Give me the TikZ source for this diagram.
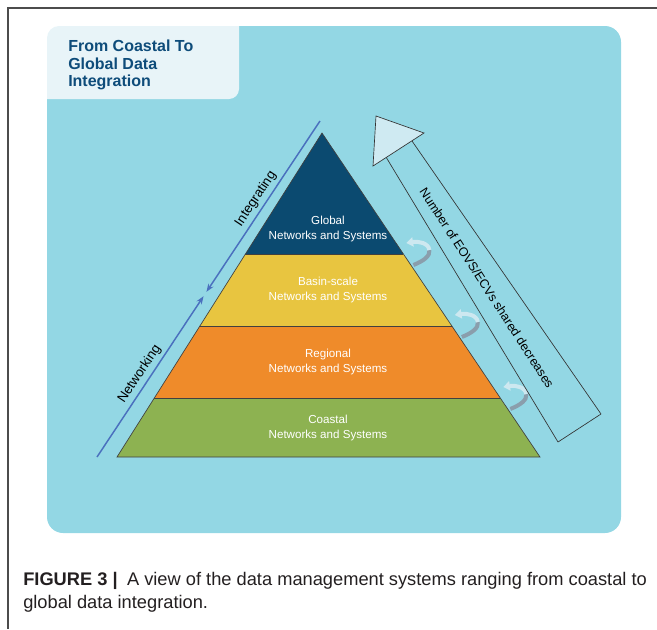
\documentclass[tikz,border=0pt]{standalone}
\usepackage{fontspec}
\setmainfont{Liberation Sans}
\usetikzlibrary{calc,arrows.meta}
\definecolor{panel}{HTML}{93D7E4}
\definecolor{titlebg}{HTML}{E8F4F8}
\definecolor{titleblue}{HTML}{0E4C7A}
\definecolor{globalc}{HTML}{0B4A70}
\definecolor{basinc}{HTML}{E8C540}
\definecolor{regionc}{HTML}{EF8B2A}
\definecolor{coastc}{HTML}{8DB251}
\definecolor{netblue}{HTML}{4A70BE}
\definecolor{headfill}{HTML}{CFEAF2}
\definecolor{curlgray}{HTML}{8A9EAC}
\definecolor{curllight}{HTML}{CDE8F0}
\definecolor{captext}{HTML}{231F20}
\tikzset{lay/.style={draw=black!75,line width=0.5pt}}
\tikzset{lbl/.style={text=white,align=center,font=\fontsize{8.7}{11.25}\selectfont}}
\tikzset{side/.style={text=black,inner sep=2.5pt,font=\fontsize{10}{10}\selectfont}}
\tikzset{netw/.style={netblue,line width=1.1pt,-{Stealth[length=6pt,width=4.5pt]}}}
\tikzset{outl/.style={draw=black!80,line width=0.5pt}}
\tikzset{captxt/.style={inner sep=0pt,text=captext,font=\fontsize{13.7}{17.5}\selectfont}}
\tikzset{curl/.pic={
  \draw[curlgray,line width=3pt] (10,-11) .. controls (20,-7) and (27,-2) .. (26,4);
  \draw[curllight,line width=3pt,-{Triangle[length=5pt,width=7pt]}] (26,4) .. controls (25,11) and (15,13) .. (3,11);
}}

\begin{document}
\begin{tikzpicture}[x=0.75pt,y=0.75pt]
        \useasboundingbox (0,0) rectangle (657,-629);
        \draw[black!70,line width=0.9pt] (657,-8) -- (8,-8) -- (8,-629);
        \fill[panel,rounded corners=12] (47,-26) rectangle (621,-533);
        \fill[titlebg] (239,-26) -- (239,-89) arc (0:-90:10) -- (47,-99) -- (47,-38) arc (180:90:12) -- cycle;
        \node[anchor=north west,inner sep=0pt,align=left,text=titleblue,font=\bfseries\fontsize{12}{12.9}\selectfont] (ttl) at (68,-40) {From Coastal To\\Global Data\\Integration};
        % pyramid
        \coordinate (apex) at (322,-133);
        \coordinate (bl) at (117,-457);
        \coordinate (br) at (540,-457);
        \coordinate (l1) at ($(apex)!0.3735!(bl)$);
        \coordinate (r1) at ($(apex)!0.3735!(br)$);
        \coordinate (l2) at ($(apex)!0.5957!(bl)$);
        \coordinate (r2) at ($(apex)!0.5957!(br)$);
        \coordinate (l3) at ($(apex)!0.8179!(bl)$);
        \coordinate (r3) at ($(apex)!0.8179!(br)$);
        \fill[globalc] (apex) -- (l1) -- (r1) -- cycle;
        \fill[basinc] (l1) -- (l2) -- (r2) -- (r1) -- cycle;
        \fill[regionc] (l2) -- (l3) -- (r3) -- (r2) -- cycle;
        \fill[coastc] (l3) -- (bl) -- (br) -- (r3) -- cycle;
        \draw[lay] (apex) -- (bl) -- (br) -- cycle;
        \draw[lay] (l1) -- (r1) (l2) -- (r2) (l3) -- (r3);
        \node[lbl] (glob) at (328,-229) {Global\\Networks and Systems};
        \node[lbl] (basin) at (328,-289.5) {Basin-scale\\Networks and Systems};
        \node[lbl] (regio) at (328,-362) {Regional\\Networks and Systems};
        \node[lbl] (coast) at (328,-428) {Coastal\\Networks and Systems};
        \pic at (r1) {curl};
        \pic at (r2) {curl};
        \pic at (r3) {curl};
        % networking / integrating
        \coordinate (nb) at (97,-457);
        \coordinate (nt) at (320,-121);
        \coordinate (meet) at (205,-294);
        \draw[netw] (nb) -- node[side,sloped,above,pos=0.48] (netl) {Networking} ($(meet)!2pt!(nb)$);
        \draw[netw] (nt) -- node[side,sloped,above,pos=0.49] (intl) {Integrating} ($(meet)!2pt!(nt)$);
        % big arrow
        \coordinate (sbl) at (558,-442);
        \coordinate (sbr) at (601,-414);
        \coordinate (str) at (412,-141);
        \coordinate (stl) at (386,-157);
        \coordinate (hl) at (373,-166);
        \coordinate (hr) at (424,-133);
        \coordinate (tip) at (376,-116);
        \draw[outl] (stl) -- (sbl) -- (sbr) -- (str);
        \filldraw[outl,fill=headfill] (hl) -- (tip) -- (hr) -- cycle;
        \node[rotate=-57,inner sep=0pt,font=\fontsize{9.4}{9.4}\selectfont] (eov) at (487,-288) {Number of EOVS/ECVs shared decreases};
        % caption
        \node[captxt,anchor=base west] (cap1) at (23,-585) {\textbf{FIGURE 3 |}\hspace{7pt}A view of the data management systems ranging from coastal to};
        \node[captxt,anchor=base west] (cap2) at (23,-608) {global data integration.};
\end{tikzpicture}
\end{document}
